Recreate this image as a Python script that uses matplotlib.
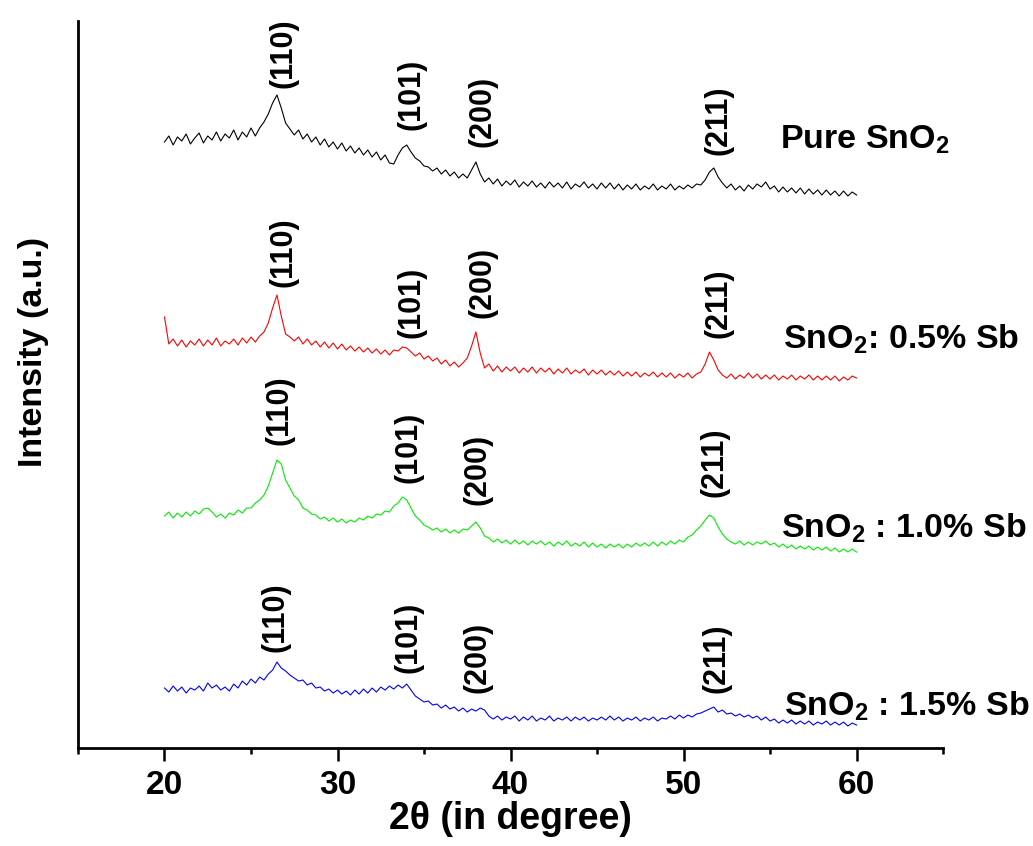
import numpy as np
import matplotlib
matplotlib.use("Agg")
import matplotlib.pyplot as plt

plt.rcParams['font.family'] = ['Liberation Sans', 'DejaVu Sans']
plt.rcParams['font.weight'] = 'bold'
plt.rcParams['mathtext.fontset'] = 'custom'
plt.rcParams['mathtext.bf'] = 'Liberation Sans:bold'
plt.rcParams['mathtext.rm'] = 'Liberation Sans:bold'

# 2theta sampling, 0.25 deg steps from 20 to 60
two_theta = np.linspace(20, 60, 161)

# intensities (a.u., stacked)
pure = [606, 612, 603, 611, 607, 614, 604, 610,
        615, 605, 612, 608, 616, 607, 614, 610,
        618, 608, 616, 611, 620, 612, 620, 626,
        634, 645, 653, 640, 625, 619, 613, 618,
        609, 614, 606, 611, 603, 609, 601, 606,
        599, 605, 597, 602, 595, 600, 593, 598,
        591, 596, 588, 593, 585, 584, 593, 600,
        603, 596, 590, 587, 582, 581, 577, 580,
        574, 578, 572, 576, 570, 574, 570, 578,
        586, 574, 566, 570, 564, 569, 562, 567,
        563, 568, 561, 566, 562, 567, 561, 565,
        560, 566, 561, 565, 560, 566, 559, 564,
        561, 566, 560, 564, 559, 565, 560, 565,
        559, 564, 558, 563, 559, 564, 558, 562,
        559, 564, 558, 562, 559, 564, 558, 562,
        559, 563, 560, 564, 563, 568, 576, 580,
        571, 565, 560, 564, 558, 562, 557, 563,
        559, 564, 561, 566, 559, 562, 556, 561,
        556, 560, 555, 560, 554, 559, 554, 558,
        553, 558, 553, 557, 552, 557, 552, 556,
        553]

sb05 = [431, 404, 409, 402, 408, 401, 407, 403,
        409, 402, 408, 403, 410, 402, 407, 404,
        409, 403, 410, 405, 411, 406, 412, 416,
        425, 440, 453, 432, 414, 411, 407, 411,
        404, 409, 403, 407, 401, 406, 400, 405,
        399, 404, 398, 402, 397, 401, 396, 400,
        395, 399, 394, 398, 393, 398, 397, 401,
        400, 396, 392, 395, 389, 392, 387, 390,
        384, 388, 382, 386, 381, 385, 390, 402,
        416, 395, 380, 384, 377, 382, 376, 381,
        377, 381, 375, 380, 376, 381, 375, 380,
        376, 380, 374, 379, 375, 380, 374, 378,
        375, 379, 373, 378, 374, 378, 373, 377,
        373, 377, 372, 376, 372, 376, 371, 375,
        372, 376, 371, 375, 371, 375, 370, 374,
        371, 375, 370, 374, 376, 384, 396, 388,
        378, 373, 370, 374, 369, 373, 370, 375,
        370, 374, 369, 373, 369, 373, 368, 372,
        369, 373, 368, 372, 369, 373, 368, 372,
        368, 372, 368, 372, 367, 371, 368, 372,
        370]

sb10 = [232, 236, 230, 235, 231, 236, 232, 237,
        234, 239, 240, 236, 231, 234, 230, 235,
        233, 238, 235, 240, 240, 245, 248, 253,
        262, 275, 288, 284, 268, 260, 252, 248,
        240, 238, 234, 233, 229, 231, 227, 230,
        226, 229, 225, 228, 226, 230, 228, 232,
        230, 234, 233, 237, 236, 242, 245, 251,
        248, 240, 232, 228, 223, 221, 218, 220,
        216, 219, 215, 218, 215, 219, 218, 222,
        226, 220, 212, 210, 206, 209, 205, 208,
        204, 208, 204, 207, 203, 207, 204, 207,
        203, 206, 202, 206, 203, 207, 202, 205,
        202, 206, 201, 205, 201, 204, 200, 204,
        201, 204, 200, 204, 201, 205, 202, 205,
        202, 206, 202, 206, 203, 207, 204, 208,
        206, 211, 213, 218, 222, 228, 233, 230,
        221, 214, 209, 206, 204, 207, 203, 206,
        203, 206, 204, 207, 203, 205, 201, 204,
        200, 203, 199, 202, 199, 202, 198, 201,
        198, 201, 197, 200, 196, 199, 196, 199,
        196]

sb15 = [60, 56, 62, 57, 61, 55, 60, 58,
        62, 57, 65, 60, 63, 58, 61, 57,
        64, 60, 67, 63, 69, 65, 71, 68,
        74, 78, 86, 80, 77, 73, 70, 67,
        68, 63, 65, 60, 61, 57, 59, 55,
        58, 54, 57, 53, 58, 54, 59, 55,
        60, 56, 61, 58, 62, 59, 63, 60,
        64, 58, 52, 49, 46, 47, 43, 44,
        40, 43, 39, 41, 37, 40, 36, 39,
        37, 40, 38, 32, 29, 32, 28, 31,
        29, 32, 27, 31, 28, 32, 27, 30,
        28, 32, 27, 30, 28, 31, 27, 31,
        28, 31, 27, 30, 28, 31, 28, 32,
        28, 31, 27, 30, 28, 31, 27, 30,
        28, 31, 27, 30, 29, 32, 29, 33,
        30, 33, 31, 34, 35, 37, 39, 41,
        36, 38, 34, 35, 32, 34, 31, 33,
        30, 32, 28, 31, 27, 29, 25, 28,
        25, 28, 24, 27, 24, 27, 23, 26,
        24, 27, 23, 26, 23, 26, 22, 25,
        23]

series = [pure, sb05, sb10, sb15]
colors = ['black', 'red', '#00ee00', 'blue']
sample_names = ['Pure SnO$_\\mathbf{2}$', 'SnO$_\\mathbf{2}$: 0.5% Sb',
                'SnO$_\\mathbf{2}$ : 1.0% Sb', 'SnO$_\\mathbf{2}$ : 1.5% Sb']
name_x = [55.55, 55.75, 55.65, 55.8]
name_y = [600, 400, 211, 33]

hkl = ['(110)', '(101)', '(200)', '(211)']
hkl_x = [[26.85, 34.25, 38.4, 52.0],
         [26.85, 34.3, 38.4, 52.0],
         [26.65, 34.1, 38.1, 51.8],
         [26.4, 34.1, 38.1, 51.9]]
hkl_y = [[660, 618, 601, 593],
         [461, 410, 430, 410],
         [303, 265, 243, 251],
         [96, 75, 55, 55]]

fig = plt.figure(figsize=(10.33, 8.46), dpi=100)
ax = fig.add_axes([0.0755, 0.1158, 0.8374, 0.8594])

for ys, c in zip(series, colors):
    ax.plot(two_theta, ys, color=c, lw=0.8)

for i in range(4):
    for lab, px, py in zip(hkl, hkl_x[i], hkl_y[i]):
        ax.text(px, py, lab, rotation=90, ha='center', va='bottom',
                fontsize=22, fontweight='bold')
    ax.text(name_x[i], name_y[i], sample_names[i], ha='left', va='baseline',
            fontsize=24.5, fontweight='bold', clip_on=False)

ax.set_xlim(15, 65)
ax.set_ylim(0, 727)
ax.set_xticks([20, 30, 40, 50, 60])
ax.set_xticks([15, 25, 35, 45, 55, 65], minor=True)
ax.set_yticks([])
for s in ['top', 'right']:
    ax.spines[s].set_visible(False)
for s in ['left', 'bottom']:
    ax.spines[s].set_linewidth(2)
ax.tick_params(axis='x', which='major', length=9, width=1.8, labelsize=24, pad=7)
ax.tick_params(axis='x', which='minor', length=4.5, width=1.8)
for t in ax.get_xticklabels():
    t.set_fontweight('bold')

ax.set_xlabel('2θ (in degree)', fontsize=27, fontweight='bold', labelpad=0)
ax.set_ylabel('Intensity (a.u.)', fontsize=24.5, fontweight='bold')
ax.yaxis.set_label_coords(-0.033, 0.545)

fig.savefig('out.png', dpi=100)
